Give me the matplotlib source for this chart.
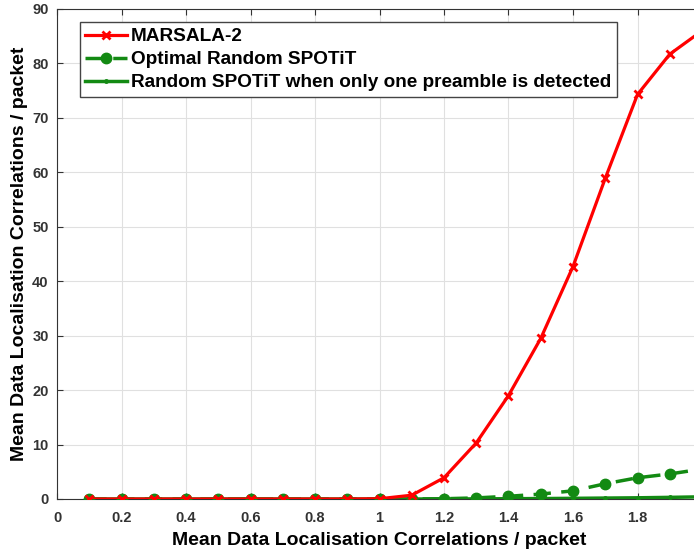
import numpy as np
import matplotlib.pyplot as plt

plt.rcParams['font.family'] = ['Liberation Sans', 'DejaVu Sans']

# --- Data ---
x = [0.1, 0.2, 0.3, 0.4, 0.5, 0.6, 0.7, 0.8, 0.9, 1.0,
     1.1, 1.2, 1.3, 1.4, 1.5, 1.6, 1.7, 1.8, 1.9, 2.0]
marsala2 = [0, 0, 0, 0, 0, 0, 0, 0, 0, 0.05,
            0.7, 3.9, 10.3, 19.0, 29.5, 42.7, 58.9, 74.3, 81.7, 86.0]
optimal_spotit = [0, 0, 0, 0, 0, 0, 0, 0, 0, 0,
                  0, 0.05, 0.2, 0.5, 0.9, 1.5, 2.8, 3.9, 4.6, 5.5]
one_preamble = [0, 0, 0, 0, 0, 0, 0, 0, 0, 0,
                0, 0, 0.02, 0.05, 0.08, 0.12, 0.17, 0.22, 0.3, 0.4]

xticks = [0, 0.2, 0.4, 0.6, 0.8, 1, 1.2, 1.4, 1.6, 1.8, 2]
# the "2" label falls outside the cropped source image
xticklabels = ['0', '0.2', '0.4', '0.6', '0.8', '1', '1.2', '1.4', '1.6', '1.8', '']
yticks = list(range(0, 91, 10))

green = '#138a13'

fig = plt.figure(figsize=(6.94, 5.54), dpi=100)
# axes run past the right edge (the source image is cropped)
ax = fig.add_axes([57 / 694, 55 / 554, 645 / 694, 490 / 554])

ax.plot(x, marsala2, color='red', lw=2.3, marker='x', ms=5.5, mew=2,
        label='MARSALA-2', zorder=4)
ax.plot(x, optimal_spotit, color=green, lw=2.5, ls=(0, (5, 3)), marker='o',
        ms=7.5, label='Optimal Random SPOTiT', zorder=3)
ax.plot(x, one_preamble, color=green, lw=2.5, marker='.', ms=5,
        label='Random SPOTiT when only one preamble is detected', zorder=3)

ax.set_xlim(0, 2)
ax.set_ylim(0, 90)
ax.set_xticks(xticks)
ax.set_xticklabels(xticklabels)
ax.set_yticks(yticks)
ax.grid(True, color='#e0e0e0', lw=0.8)
ax.set_axisbelow(True)
ax.tick_params(direction='in', length=4, labelsize=10.5, colors='#333333',
               top=True)
ax.tick_params(axis='x', pad=9)
ax.tick_params(axis='y', pad=6)
for lab in ax.get_xticklabels() + ax.get_yticklabels():
    lab.set_fontweight('bold')
for s in ax.spines.values():
    s.set_color('#333333')
    s.set_linewidth(0.8)

ax.set_xlabel('Mean Data Localisation Correlations / packet',
              fontsize=14, fontweight='bold', labelpad=5)
ax.set_ylabel('Mean Data Localisation Correlations / packet',
              fontsize=14, fontweight='bold', labelpad=3)

leg = ax.legend(loc='upper left', bbox_to_anchor=(0.035, 0.973),
                prop={'weight': 'bold', 'size': 13.7}, fancybox=False,
                edgecolor='#444444', framealpha=1, handlelength=2.2,
                handletextpad=0.2, borderpad=0.3, labelspacing=0.3,
                borderaxespad=0)
leg.get_frame().set_linewidth(1.0)

fig.savefig('out.png', dpi=100)
